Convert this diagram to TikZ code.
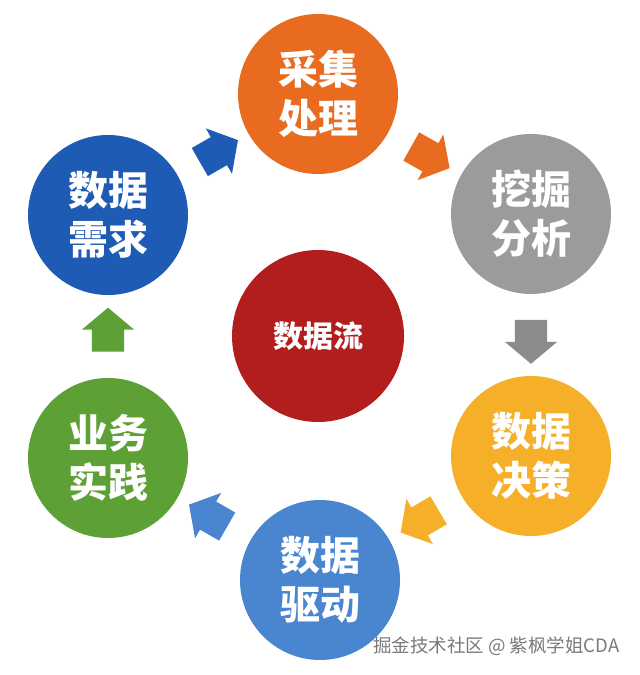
\documentclass[tikz,border=0pt]{standalone}
\usepackage{fontspec}
\newfontfamily\cjk{Noto Sans CJK SC}
\usepackage{tikz}
\usetikzlibrary{shapes.arrows}
\definecolor{collectOrange}{HTML}{E86B1F}
\definecolor{mineGray}{HTML}{9B9B9B}
\definecolor{decideYellow}{HTML}{F5AF28}
\definecolor{driveBlue}{HTML}{4A86CF}
\definecolor{practiceGreen}{HTML}{5DA035}
\definecolor{needBlue}{HTML}{1E5BB4}
\definecolor{streamRed}{HTML}{B21D1D}
\definecolor{creditGray}{HTML}{7A7A7A}
\tikzset{
    stage/.style={circle, fill=#1, minimum size=160bp, inner sep=0pt, text=white, align=center,
        font=\cjk\bfseries\fontsize{40bp}{49bp}\selectfont},
    core/.style={circle, fill=streamRed, minimum size=172bp, inner sep=0pt, text=white,
        font=\cjk\bfseries\fontsize{30bp}{36bp}\selectfont},
    flow arrow/.style={single arrow, fill=#1, minimum height=44bp, inner xsep=0pt, inner ysep=16bp,
        single arrow head extend=10bp, single arrow tip angle=100, sloped, allow upside down},
    credit/.style={text=creditGray, font=\cjk\fontsize{18.5bp}{22bp}\selectfont, inner sep=0pt}
}

\begin{document}
\begin{tikzpicture}[x=1bp, y=-1bp]
    \fill[white] (0,0) rectangle (640,675);
    \useasboundingbox (0,0) rectangle (640,675);

    \node[stage=collectOrange] (collect) at (318,94) {采集\\处理};
    \node[stage=mineGray] (mine) at (531,214) {挖掘\\分析};
    \node[stage=decideYellow] (decide) at (531,456) {数据\\决策};
    \node[stage=driveBlue] (drive) at (320,580) {数据\\驱动};
    \node[stage=practiceGreen] (practice) at (108,458) {业务\\实践};
    \node[stage=needBlue] (need) at (108,215) {数据\\需求};
    \node[core] (stream) at (318,336) {数据流};

    \path (need) -- node[flow arrow=needBlue] (a1) {} (collect);
    \path (collect) -- node[flow arrow=collectOrange] (a2) {} (mine);
    \path (mine) -- node[flow arrow=mineGray!90!black] (a3) {} (decide);
    \path (decide) -- node[flow arrow=decideYellow] (a4) {} (drive);
    \path (drive) -- node[flow arrow=driveBlue] (a5) {} (practice);
    \path (practice) -- node[flow arrow=practiceGreen] (a6) {} (need);

    \node[credit, anchor=west] (watermark) at (373,646) {掘金技术社区 @ 紫枫学姐CDA};
\end{tikzpicture}
\end{document}
